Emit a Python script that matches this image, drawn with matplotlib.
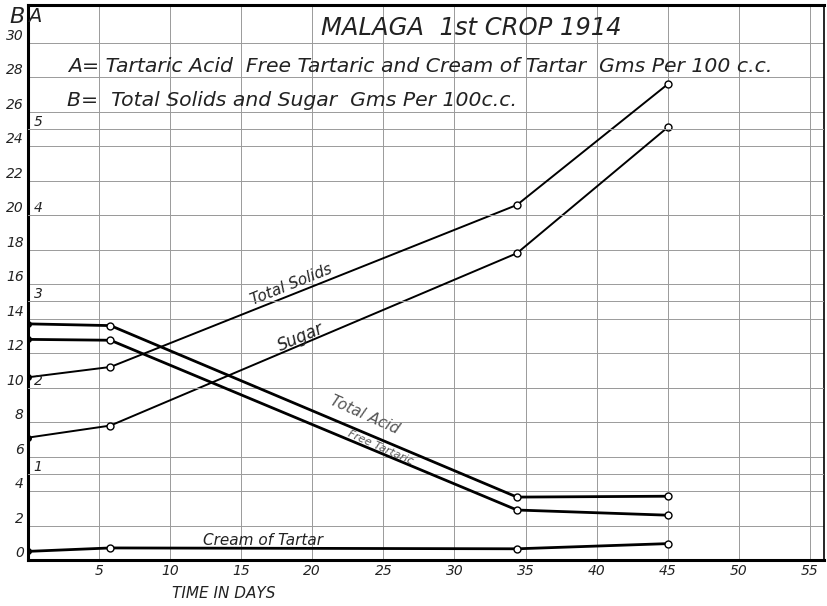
import matplotlib
matplotlib.use("Agg")
import matplotlib.pyplot as plt

# values (days; B scale = gms/100cc solids & sugar, A scale = acids)
days = [0, 5.8, 34.4, 45]
total_solids = [10.6, 11.2, 20.6, 27.6]
sugar = [7.1, 7.8, 17.8, 25.1]
total_acid = [2.74, 2.72, 0.73, 0.74]
free_tartaric = [2.56, 2.55, 0.58, 0.52]
cream_of_tartar = [0.10, 0.14, 0.13, 0.19]

x_ticks = [5, 10, 15, 20, 25, 30, 35, 40, 45, 50, 55]
b_ticks = list(range(0, 31, 2))
a_ticks = [1, 2, 3, 4, 5]

hand = dict(family="DejaVu Sans", style="italic", color="#222222")

fig = plt.figure(figsize=(8.28, 6.06), dpi=100)
ax = fig.add_axes([28 / 828, 46 / 606, 796 / 828, 555 / 606])
ax2 = ax.twinx()

ax.set_xlim(0, 56)
ax.set_ylim(0, 32.2)
ax2.set_ylim(0, 32.2 / 5)

ax.set_xticks(x_ticks)
ax.set_xticklabels([str(t) for t in x_ticks], **hand, fontsize=10)
ax.set_yticks(b_ticks)
ax.set_yticklabels([str(t) for t in b_ticks], **hand, fontsize=10)
for lab in ax.get_yticklabels():
    lab.set_va("bottom")
ax.tick_params(length=0, pad=3)
ax.grid(True, color="#9a9a9a", lw=0.7)

ax2.set_yticks(a_ticks)
ax2.set_yticklabels([str(t) for t in a_ticks], **hand, fontsize=10)
ax2.yaxis.set_ticks_position("left")
ax2.tick_params(axis="y", length=0, pad=-4)
for lab in ax2.get_yticklabels():
    lab.set_ha("left")
    lab.set_va("bottom")
ax2.yaxis.grid(True, color="#9a9a9a", lw=0.7)

for s in ["left", "bottom", "top"]:
    ax.spines[s].set_linewidth(2.2)
ax.spines["right"].set_linewidth(1.2)
for s in ax2.spines.values():
    s.set_visible(False)

open_pt = dict(marker="o", ms=5, mfc="white", mec="black", mew=1, markevery=slice(1, None))
ax.plot(days, total_solids, color="black", lw=1.4, **open_pt)
ax.plot(days, sugar, color="black", lw=1.4, **open_pt)
ax.plot(days[:1], total_solids[:1], "o", color="black", ms=4)
ax.plot(days[:1], sugar[:1], "o", color="black", ms=4)

for ser in [total_acid, free_tartaric, cream_of_tartar]:
    ax2.plot(days, ser, color="black", lw=2, **open_pt)
    ax2.plot(days[:1], ser[:1], "o", color="black", ms=4)

# line labels
ax.text(18.5, 15.95, "Total Solids", rotation=22, ha="center", va="center", fontsize=11, **hand)
ax.text(19.2, 12.9, "Sugar", rotation=23, ha="center", va="center", fontsize=12, **hand)
ax2.text(23.7, 1.68, "Total Acid", rotation=-24, ha="center", va="center", fontsize=11,
         family="DejaVu Sans", style="italic", color="#555555")
ax2.text(24.8, 1.31, "Free Tartaric", rotation=-24, ha="center", va="center", fontsize=8,
         family="DejaVu Sans", style="italic", color="#555555")
ax2.text(16.5, 0.23, "Cream of Tartar", ha="center", va="center", fontsize=11, **hand)

ax.set_xlabel("TIME IN DAYS", fontsize=11, va="center", **hand)
ax.xaxis.set_label_coords(0.246, -0.06)

fig.text(471 / 828, 1 - 28 / 606, "MALAGA  1st CROP 1914", ha="center", va="center",
         fontsize=17.5, **hand)
fig.text(68 / 828, 1 - 66 / 606,
         "A= Tartaric Acid  Free Tartaric and Cream of Tartar  Gms Per 100 c.c.",
         ha="left", va="center", fontsize=14.7, **hand)
fig.text(67 / 828, 1 - 100 / 606, "B=  Total Solids and Sugar  Gms Per 100c.c.",
         ha="left", va="center", fontsize=14.7, **hand)
fig.text(17 / 828, 1 - 17 / 606, "B", ha="center", va="center", fontsize=16, **hand)
fig.text(35 / 828, 1 - 17 / 606, "A", ha="center", va="center", fontsize=14, **hand)

fig.savefig("out.png", dpi=100)
